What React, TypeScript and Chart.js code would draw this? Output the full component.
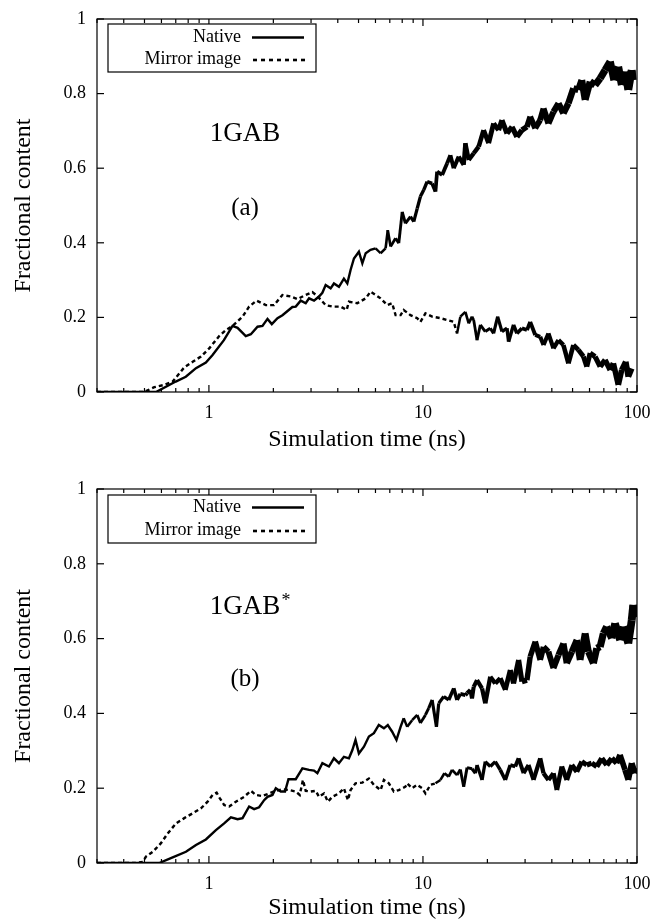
import React, { useEffect, useRef } from "react";
import { Chart, registerables } from "chart.js";
Chart.register(...registerables);

const SERIES_NATIVE = "Native";
const SERIES_MIRROR = "Mirror image";
const X_LABEL = "Simulation time (ns)";
const Y_LABEL = "Fractional content";
const X_MIN = 0.3;
const X_MAX = 100;
const X_TICK_LABELS = [1, 10, 100];
const Y_TICK_VALUES = [0, 0.2, 0.4, 0.6, 0.8, 1];

// Panel (a) 1GAB
const aNativeT = [0.3, 0.55, 0.566, 0.7, 0.78, 0.87, 0.968, 1.04, 1.175, 1.289, 1.361, 1.487, 1.57, 1.687, 1.779, 1.878, 1.967, 2.091, 2.206, 2.455, 2.545, 2.685, 2.833, 2.936, 3.098, 3.268, 3.389, 3.511, 3.704, 3.838, 4.05, 4.272, 4.432, 4.59, 4.76, 5.02, 5.21, 5.4, 5.69, 6.01, 6.34, 6.69, 6.85, 7.06, 7.45, 7.71, 8.0, 8.28, 8.74, 9.06, 9.4, 9.73, 10.09, 10.46, 11.04, 11.44, 11.64, 12.29, 12.97, 13.43, 13.92, 14.69, 15.5, 15.78, 16.36, 17.26, 18.21, 19.2, 20.27, 21.38, 22.56, 23.39, 24.7, 26.06, 27.48, 28.99, 30.61, 31.7, 33.46, 35.3, 36.58, 38.56, 40.7, 42.97, 45.31, 47.82, 50.46, 53.24, 55.22, 57.24, 60.38, 63.71, 67.27, 70.95, 74.89, 78.13, 81.78, 84.83, 87.93, 91.06, 94.46, 95.47];
const aNativeV = [0, 0, 0.0, 0.028, 0.041, 0.064, 0.079, 0.099, 0.139, 0.177, 0.172, 0.15, 0.155, 0.175, 0.177, 0.196, 0.182, 0.198, 0.206, 0.228, 0.229, 0.245, 0.238, 0.251, 0.245, 0.256, 0.266, 0.287, 0.278, 0.291, 0.282, 0.304, 0.291, 0.327, 0.358, 0.376, 0.345, 0.372, 0.381, 0.385, 0.372, 0.385, 0.434, 0.39, 0.412, 0.399, 0.483, 0.452, 0.47, 0.457, 0.492, 0.524, 0.542, 0.564, 0.559, 0.537, 0.591, 0.582, 0.613, 0.635, 0.6, 0.631, 0.609, 0.667, 0.622, 0.64, 0.658, 0.702, 0.667, 0.72, 0.702, 0.729, 0.693, 0.711, 0.684, 0.702, 0.711, 0.738, 0.707, 0.729, 0.76, 0.72, 0.751, 0.774, 0.747, 0.774, 0.814, 0.81, 0.836, 0.783, 0.832, 0.823, 0.841, 0.863, 0.886, 0.836, 0.872, 0.823, 0.859, 0.81, 0.863, 0.836];
const aMirrorT = [0.3, 0.498, 0.556, 0.619, 0.677, 0.767, 0.84, 0.918, 1.003, 1.117, 1.2, 1.289, 1.436, 1.541, 1.668, 1.844, 2.015, 2.206, 2.412, 2.592, 2.782, 3.044, 3.212, 3.511, 3.772, 4.124, 4.399, 4.51, 4.93, 5.4, 5.69, 6.01, 6.34, 6.81, 7.18, 7.45, 7.86, 8.13, 8.74, 9.4, 9.73, 10.27, 11.04, 12.07, 12.97, 13.92, 14.43, 14.95, 15.78, 16.36, 16.95, 17.26, 17.89, 18.54, 19.55, 20.63, 21.38, 22.33, 23.39, 24.7, 25.12, 26.5, 27.48, 28.99, 30.61, 31.7, 33.46, 35.3, 36.58, 38.56, 40.7, 42.97, 45.31, 47.82, 50.46, 53.24, 56.2, 58.26, 60.38, 63.71, 67.27, 70.95, 74.89, 77.57, 81.78, 84.83, 88.59, 91.06, 94.46];
const aMirrorV = [0, 0, 0.013, 0.019, 0.028, 0.066, 0.081, 0.095, 0.117, 0.15, 0.166, 0.177, 0.202, 0.229, 0.245, 0.233, 0.233, 0.26, 0.256, 0.249, 0.258, 0.268, 0.257, 0.233, 0.229, 0.229, 0.22, 0.242, 0.238, 0.251, 0.269, 0.26, 0.251, 0.233, 0.238, 0.206, 0.206, 0.22, 0.206, 0.198, 0.188, 0.211, 0.202, 0.198, 0.193, 0.188, 0.157, 0.202, 0.215, 0.184, 0.202, 0.193, 0.139, 0.18, 0.162, 0.171, 0.157, 0.202, 0.162, 0.171, 0.135, 0.18, 0.157, 0.171, 0.166, 0.188, 0.153, 0.148, 0.126, 0.157, 0.117, 0.139, 0.126, 0.077, 0.126, 0.113, 0.095, 0.068, 0.104, 0.095, 0.068, 0.086, 0.059, 0.077, 0.019, 0.059, 0.081, 0.041, 0.063];

// Panel (b) 1GAB*
const bNativeT = [0.3, 0.586, 0.677, 0.781, 0.87, 0.968, 1.078, 1.178, 1.267, 1.361, 1.436, 1.541, 1.626, 1.716, 1.811, 1.878, 1.981, 2.053, 2.166, 2.268, 2.353, 2.545, 2.734, 2.936, 3.098, 3.212, 3.389, 3.637, 3.838, 4.05, 4.272, 4.51, 4.68, 4.84, 5.02, 5.3, 5.59, 5.9, 6.22, 6.57, 6.85, 7.18, 7.52, 7.86, 8.13, 8.44, 8.9, 9.4, 9.73, 10.27, 10.64, 11.04, 11.56, 11.85, 12.51, 13.19, 13.92, 14.43, 14.95, 15.78, 16.07, 16.65, 16.95, 17.26, 17.89, 18.88, 19.55, 20.63, 21.77, 22.97, 24.25, 25.58, 26.5, 27.98, 28.99, 30.61, 31.7, 33.46, 35.3, 36.58, 38.56, 40.7, 42.97, 45.31, 46.98, 49.61, 52.34, 54.23, 57.24, 59.29, 62.56, 64.86, 67.27, 69.67, 72.21, 76.22, 78.95, 83.3, 86.34, 91.06, 94.46, 96.13, 97.89, 99.8];
const bNativeV = [0, 0, 0.015, 0.03, 0.048, 0.063, 0.088, 0.106, 0.122, 0.117, 0.12, 0.151, 0.144, 0.149, 0.168, 0.177, 0.182, 0.2, 0.191, 0.191, 0.224, 0.224, 0.253, 0.249, 0.247, 0.24, 0.267, 0.258, 0.28, 0.267, 0.284, 0.28, 0.302, 0.329, 0.293, 0.311, 0.338, 0.347, 0.369, 0.36, 0.369, 0.351, 0.329, 0.364, 0.387, 0.364, 0.382, 0.396, 0.374, 0.396, 0.414, 0.436, 0.364, 0.427, 0.445, 0.436, 0.467, 0.436, 0.452, 0.449, 0.454, 0.463, 0.44, 0.471, 0.489, 0.467, 0.427, 0.498, 0.48, 0.494, 0.463, 0.516, 0.48, 0.543, 0.485, 0.489, 0.552, 0.592, 0.543, 0.578, 0.565, 0.521, 0.556, 0.587, 0.534, 0.565, 0.596, 0.543, 0.614, 0.565, 0.534, 0.574, 0.578, 0.614, 0.632, 0.601, 0.641, 0.596, 0.632, 0.587, 0.649, 0.69, 0.659, 0.672];
const bMirrorT = [0.3, 0.45, 0.491, 0.508, 0.547, 0.597, 0.642, 0.702, 0.767, 0.84, 0.918, 0.986, 1.04, 1.086, 1.125, 1.178, 1.244, 1.336, 1.461, 1.57, 1.656, 1.779, 1.91, 2.053, 2.206, 2.368, 2.545, 2.657, 2.75, 2.833, 2.99, 3.155, 3.268, 3.449, 3.598, 3.772, 4.05, 4.272, 4.46, 4.59, 4.84, 5.21, 5.59, 5.9, 6.34, 6.57, 6.93, 7.31, 7.71, 8.28, 8.44, 8.9, 9.4, 9.91, 10.27, 10.84, 11.44, 12.07, 12.6, 13.19, 13.68, 14.43, 14.95, 15.5, 16.07, 16.95, 17.57, 17.89, 18.88, 19.55, 20.63, 21.77, 22.97, 24.25, 25.58, 26.99, 27.98, 29.52, 31.13, 32.86, 35.3, 36.58, 38.56, 40.7, 42.24, 44.54, 46.98, 49.61, 52.34, 55.22, 58.26, 61.47, 64.86, 68.46, 72.21, 76.22, 80.35, 83.3, 87.93, 91.06, 94.46, 97.89, 99.8];
const bMirrorV = [0, 0, 0.003, 0.017, 0.03, 0.053, 0.079, 0.106, 0.12, 0.133, 0.146, 0.164, 0.182, 0.188, 0.173, 0.155, 0.151, 0.164, 0.177, 0.193, 0.182, 0.179, 0.186, 0.193, 0.197, 0.195, 0.191, 0.182, 0.222, 0.193, 0.191, 0.193, 0.177, 0.186, 0.164, 0.177, 0.186, 0.2, 0.168, 0.195, 0.213, 0.215, 0.226, 0.209, 0.195, 0.222, 0.213, 0.191, 0.195, 0.204, 0.213, 0.2, 0.209, 0.2, 0.186, 0.209, 0.213, 0.222, 0.24, 0.231, 0.249, 0.235, 0.25, 0.204, 0.255, 0.252, 0.24, 0.262, 0.222, 0.271, 0.258, 0.271, 0.249, 0.222, 0.262, 0.258, 0.28, 0.24, 0.262, 0.222, 0.28, 0.24, 0.222, 0.24, 0.195, 0.258, 0.222, 0.262, 0.244, 0.271, 0.262, 0.267, 0.258, 0.28, 0.262, 0.28, 0.267, 0.289, 0.249, 0.222, 0.267, 0.24, 0.253];

const FONT = "'Liberation Serif', 'Times New Roman', serif";
const INK = "#000";

type PanelProps = {
  height: number;
  areaTop: number;
  areaBottom: number;
  xTitlePad: number;
  nativeT: number[];
  nativeV: number[];
  mirrorT: number[];
  mirrorV: number[];
  nativeNoisyFrom: number;
  mirrorNoisyFrom: number;
  legendTop: number;
  legendBottom: number;
  row1: number;
  row2: number;
  name: string;
  nameBaseline: number;
  star: boolean;
  tag: string;
  tagBaseline: number;
};

function pts(t: number[], v: number[]) {
  return t.map((x, i) => ({ x, y: v[i] }));
}

// line thickness grows where the trajectory becomes noisy (a drawing style only)
function bandWidth(x: number, from: number, maxW: number) {
  if (x <= from) return 2.4;
  const f = Math.min(1, Math.log10(x / from) / Math.log10(X_MAX / from));
  return 2.4 + (maxW - 2.4) * f;
}

function Panel(p: PanelProps) {
  const ref = useRef<HTMLCanvasElement | null>(null);
  useEffect(() => {
    if (!ref.current) return;
    const deco = {
      id: "deco",
      afterDraw(chart: any) {
        const { ctx, chartArea: ca, scales } = chart;
        const xs = scales.x;
        const ys = scales.y;
        ctx.save();
        ctx.strokeStyle = INK;
        ctx.lineWidth = 1.2;
        ctx.setLineDash([]);
        ctx.strokeRect(ca.left, ca.top, ca.right - ca.left, ca.bottom - ca.top);
        const seg = (x1: number, y1: number, x2: number, y2: number) => {
          ctx.beginPath();
          ctx.moveTo(x1, y1);
          ctx.lineTo(x2, y2);
          ctx.stroke();
        };
        for (const v of Y_TICK_VALUES) {
          const py = ys.getPixelForValue(v);
          seg(ca.left, py, ca.left + 7, py);
          seg(ca.right - 7, py, ca.right, py);
        }
        for (let d = -1; d <= 2; d++) {
          for (let m = 1; m <= 9; m++) {
            const v = m * Math.pow(10, d);
            if (v < X_MIN || v > X_MAX) continue;
            const px = xs.getPixelForValue(v);
            const len = m === 1 ? 7 : 4;
            seg(px, ca.bottom, px, ca.bottom - len);
            seg(px, ca.top, px, ca.top + len);
          }
        }
        // legend
        const lx1 = ca.left + 11;
        const lx2 = ca.left + 219;
        ctx.lineWidth = 1.2;
        ctx.fillStyle = "#fff";
        ctx.fillRect(lx1, p.legendTop, lx2 - lx1, p.legendBottom - p.legendTop);
        ctx.strokeRect(lx1, p.legendTop, lx2 - lx1, p.legendBottom - p.legendTop);
        ctx.fillStyle = INK;
        ctx.font = `18px ${FONT}`;
        ctx.textAlign = "right";
        ctx.textBaseline = "middle";
        ctx.fillText(SERIES_NATIVE, ca.left + 144, p.row1);
        ctx.fillText(SERIES_MIRROR, ca.left + 144, p.row2);
        ctx.lineWidth = 2.6;
        seg(ca.left + 155, p.row1 + 0.5, ca.left + 207, p.row1 + 0.5);
        ctx.setLineDash([4, 4]);
        seg(ca.left + 156, p.row2 + 1, ca.left + 208, p.row2 + 1);
        ctx.setLineDash([]);
        // annotations
        ctx.textAlign = "center";
        ctx.textBaseline = "alphabetic";
        ctx.font = `27px ${FONT}`;
        ctx.fillText(p.name, 245, p.nameBaseline);
        if (p.star) {
          ctx.font = `18px ${FONT}`;
          ctx.fillText("*", 286, p.nameBaseline - 8);
        }
        ctx.font = `25px ${FONT}`;
        ctx.fillText(p.tag, 245, p.tagBaseline);
        ctx.restore();
      },
    };
    const chart = new Chart(ref.current, {
      type: "line",
      data: {
        datasets: [
          {
            label: SERIES_MIRROR,
            data: pts(p.mirrorT, p.mirrorV),
            borderColor: INK,
            borderWidth: 2.6,
            borderDash: [4, 3],
            pointRadius: 0,
            tension: 0,
            fill: false,
            borderJoinStyle: "miter",
            segment: {
              borderDash: (c: any) => (c.p0.parsed.x >= p.mirrorNoisyFrom ? [] : [4, 3]),
              borderWidth: (c: any) => bandWidth(c.p0.parsed.x, p.mirrorNoisyFrom, 6),
            },
          },
          {
            label: SERIES_NATIVE,
            data: pts(p.nativeT, p.nativeV),
            borderColor: INK,
            borderWidth: 2.6,
            pointRadius: 0,
            tension: 0,
            fill: false,
            borderJoinStyle: "miter",
            segment: {
              borderWidth: (c: any) => bandWidth(c.p0.parsed.x, p.nativeNoisyFrom, 8),
            },
          },
        ],
      },
      options: {
        animation: false,
        responsive: false,
        devicePixelRatio: 1,
        layout: { padding: { left: 0, right: 17, top: p.areaTop, bottom: 0 } },
        plugins: { legend: { display: false }, tooltip: { enabled: false } },
        scales: {
          x: {
            type: "logarithmic",
            min: X_MIN,
            max: X_MAX,
            grid: { display: false, drawTicks: false },
            border: { display: false },
            ticks: {
              color: INK,
              font: { family: FONT, size: 18 },
              padding: 10,
              autoSkip: false,
              maxRotation: 0,
              callback: (v: any) => (X_TICK_LABELS.includes(Number(v)) ? String(Number(v)) : ""),
            },
            title: {
              display: true,
              text: X_LABEL,
              color: INK,
              font: { family: FONT, size: 24, lineHeight: 1 },
              padding: { top: 0, bottom: p.xTitlePad },
            },
            afterFit: (s: any) => {
              s.height = p.height - p.areaBottom;
              s.paddingLeft = 0;
              s.paddingRight = 0;
            },
          },
          y: {
            type: "linear",
            min: 0,
            max: 1,
            grid: { display: false, drawTicks: false },
            border: { display: false },
            ticks: {
              color: INK,
              font: { family: FONT, size: 18 },
              padding: 11,
              stepSize: 0.2,
              callback: (v: any) => String(Number(Number(v).toFixed(1))),
            },
            title: {
              display: true,
              text: Y_LABEL,
              color: INK,
              font: { family: FONT, size: 24, lineHeight: 1 },
              padding: { top: 12, bottom: 0 },
            },
            afterFit: (s: any) => {
              s.width = 97;
              s.paddingTop = 0;
              s.paddingBottom = 0;
            },
          },
        },
      },
      plugins: [deco],
    } as any);
    return () => chart.destroy();
  }, []);
  return <canvas ref={ref} width={654} height={p.height} style={{ display: "block", width: 654, height: p.height }} />;
}

export default function App() {
  return (
    <div style={{ position: "absolute", left: 0, top: 0, width: 654, height: 921, background: "#fff" }}>
      <Panel
        height={460}
        areaTop={19}
        areaBottom={392}
        xTitlePad={8}
        nativeT={aNativeT}
        nativeV={aNativeV}
        mirrorT={aMirrorT}
        mirrorV={aMirrorV}
        nativeNoisyFrom={6}
        mirrorNoisyFrom={14}
        legendTop={24}
        legendBottom={72}
        row1={37}
        row2={59}
        name="1GAB"
        nameBaseline={141}
        star={false}
        tag="(a)"
        tagBaseline={215}
      />
      <Panel
        height={461}
        areaTop={29}
        areaBottom={403}
        xTitlePad={1}
        nativeT={bNativeT}
        nativeV={bNativeV}
        mirrorT={bMirrorT}
        mirrorV={bMirrorV}
        nativeNoisyFrom={8}
        mirrorNoisyFrom={11}
        legendTop={35}
        legendBottom={83}
        row1={47}
        row2={70}
        name="1GAB"
        nameBaseline={154}
        star={true}
        tag="(b)"
        tagBaseline={226}
      />
    </div>
  );
}
